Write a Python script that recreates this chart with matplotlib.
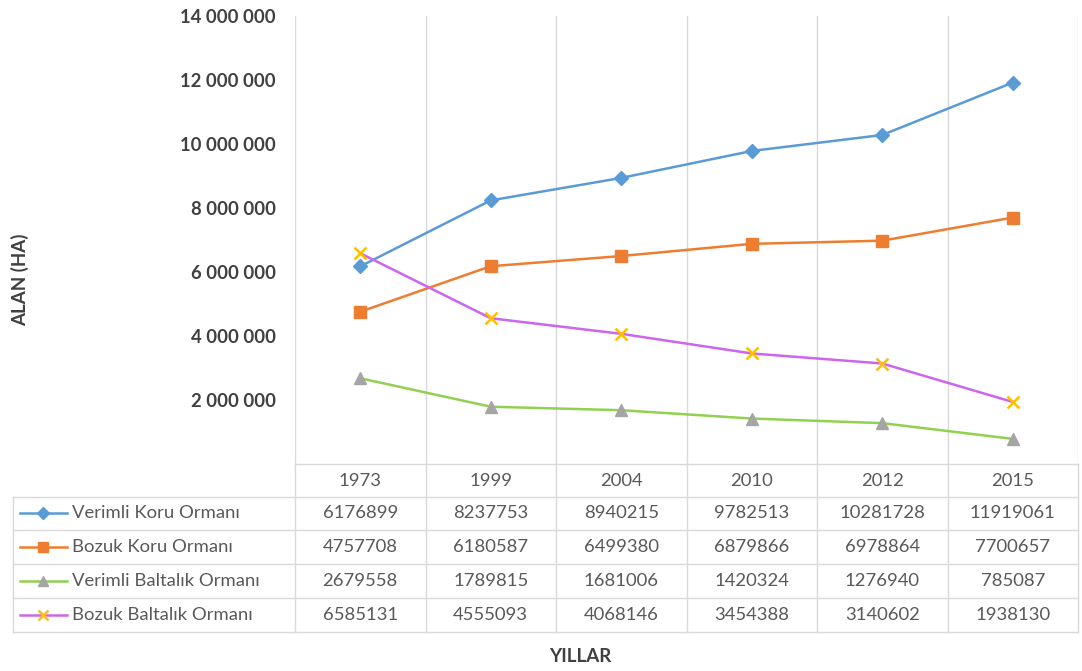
import matplotlib
matplotlib.use("Agg")
import matplotlib.pyplot as plt
from matplotlib.lines import Line2D

years = ["1973", "1999", "2004", "2010", "2012", "2015"]
series_names = ["Verimli Koru Ormanı", "Bozuk Koru Ormanı",
                "Verimli Baltalık Ormanı", "Bozuk Baltalık Ormanı"]
verimli_koru = [6176899, 8237753, 8940215, 9782513, 10281728, 11919061]
bozuk_koru = [4757708, 6180587, 6499380, 6879866, 6978864, 7700657]
verimli_baltalik = [2679558, 1789815, 1681006, 1420324, 1276940, 785087]
bozuk_baltalik = [6585131, 4555093, 4068146, 3454388, 3140602, 1938130]
y_ticks = [2000000, 4000000, 6000000, 8000000, 10000000, 12000000, 14000000]
y_title = "ALAN (HA)"
x_title = "YILLAR"

series = [verimli_koru, bozuk_koru, verimli_baltalik, bozuk_baltalik]
line_colors = ["#5B9BD5", "#ED7D31", "#92D050", "#CC66EE"]
marker_styles = [
    dict(marker="D", markersize=7, markerfacecolor="#5B9BD5", markeredgecolor="#5B9BD5"),
    dict(marker="s", markersize=9, markerfacecolor="#ED7D31", markeredgecolor="#ED7D31"),
    dict(marker="^", markersize=9, markerfacecolor="#A5A5A5", markeredgecolor="#A5A5A5"),
    dict(marker="x", markersize=9, markeredgewidth=1.8, markeredgecolor="#FFC000"),
]

plt.rcParams['font.family'] = ['Lato', 'DejaVu Sans']

W, H = 1082, 671
fig = plt.figure(figsize=(W / 100, H / 100), dpi=100)
fig.patch.set_facecolor("white")

def fx(x):
    return x / W

def fy(y):
    return 1 - y / H

TXT = 13.3
left_px, right_px, top_px, bottom_px = 295, 1078, 16, 464
ax = fig.add_axes([fx(left_px), fy(bottom_px), fx(right_px) - fx(left_px), fy(top_px) - fy(bottom_px)])
n = len(years)
xs = list(range(n))
ax.set_xlim(-0.5, n - 0.5)
ax.set_ylim(0, 14000000)
for s in ax.spines.values():
    s.set_visible(False)
ax.set_xticks([])
ax.set_yticks(y_ticks)
ax.set_yticklabels([f"{v:,}".replace(",", " ") for v in y_ticks],
                   fontsize=13.3, fontweight="bold", color="#404040")
ax.tick_params(axis="y", length=0, pad=14)
for b in range(n + 1):
    ax.axvline(b - 0.5, color="#D9D9D9", lw=1, zorder=0)

for vals, c, ms in zip(series, line_colors, marker_styles):
    ax.plot(xs, vals, color=c, lw=1.8, zorder=3, **ms)

grid_c = "#D9D9D9"
col_w = (right_px - left_px) / n
row_lines = [464, 497, 530, 564, 598, 632]
fig.add_artist(Line2D([fx(left_px), fx(right_px)], [fy(464), fy(464)], color=grid_c, lw=1))
for yl in row_lines[1:]:
    fig.add_artist(Line2D([fx(13), fx(right_px)], [fy(yl), fy(yl)], color=grid_c, lw=1))
for b in range(n + 1):
    xb = left_px + b * col_w
    fig.add_artist(Line2D([fx(xb), fx(xb)], [fy(464), fy(632)], color=grid_c, lw=1))
fig.add_artist(Line2D([fx(13), fx(13)], [fy(497), fy(632)], color=grid_c, lw=1))

for i, yr in enumerate(years):
    xc = left_px + (i + 0.5) * col_w
    fig.text(fx(xc), fy(481), yr, ha="center", va="center", fontsize=TXT, color="#595959")

row_centers = [513, 547, 581, 615]
for r, (name, vals, c, ms) in enumerate(zip(series_names, series, line_colors, marker_styles)):
    yc = row_centers[r]
    fig.add_artist(Line2D([fx(20), fx(67)], [fy(yc), fy(yc)], color=c, lw=1.8))
    m = dict(ms)
    m["markersize"] = m["markersize"] * 0.85
    fig.add_artist(Line2D([fx(43)], [fy(yc)], color=c, lw=0, **m))
    fig.text(fx(72), fy(yc), name, ha="left", va="center", fontsize=TXT, color="#595959")
    for i, v in enumerate(vals):
        xc = left_px + (i + 0.5) * col_w
        fig.text(fx(xc), fy(yc), str(v), ha="center", va="center", fontsize=TXT, color="#595959")

fig.text(fx(20), fy(280), y_title, rotation=90, ha="center", va="center",
         fontsize=13.5, fontweight="bold", color="#404040")
fig.text(fx(580), fy(657), x_title, ha="center", va="center",
         fontsize=13.5, fontweight="bold", color="#404040")

fig.savefig("out.png", dpi=100, facecolor="white")
